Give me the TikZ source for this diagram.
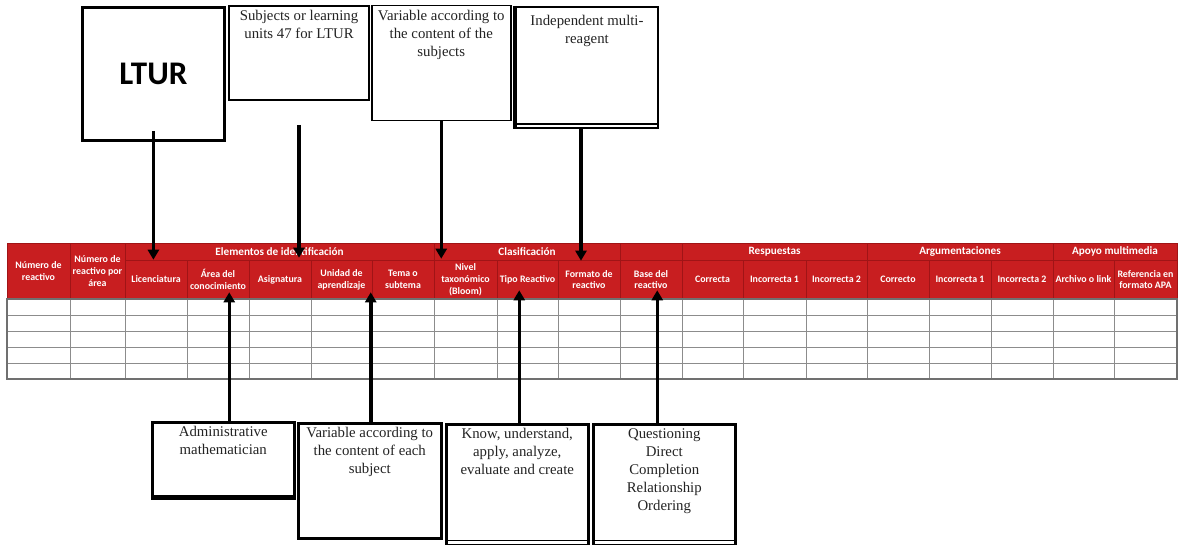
\documentclass[tikz,border=0pt]{standalone}
\usepackage{fontspec}
\setmainfont{Liberation Serif}
\newfontfamily\calfont{Carlito}
\usetikzlibrary{arrows.meta}
\definecolor{tred}{RGB}{200,30,32}
\definecolor{tline}{RGB}{160,20,22}
\definecolor{gridc}{RGB}{140,140,140}
\definecolor{boxtext}{RGB}{35,35,35}
\begin{document}
\begin{tikzpicture}[x=1pt,y=-1pt,
  hcell/.style={draw=tline, line width=0.6pt, fill=tred, text=white,
    font=\calfont\bfseries\fontsize{9.9}{11.8}\selectfont, align=center, inner sep=0pt},
  gcell/.style={hcell, font=\calfont\bfseries\fontsize{11.2}{12}\selectfont},
  tbox/.style={draw=black, line width=2.5pt, fill=white, inner sep=0pt, anchor=north west},
  btext/.style={font=\fontsize{14.8}{18}\selectfont, text=boxtext, align=center, inner sep=0pt, anchor=north},
  arr/.style={line width=3.5pt, -{Triangle[width=11pt,length=10pt]}},
  gridline/.style={draw=gridc, line width=0.9pt},
]
\useasboundingbox (0,0) rectangle (1180,545);

% ---------- table header ----------
\node[hcell, minimum width=63, minimum height=56] (h1) at (38.5,271) {Número de\\reactivo};
\node[hcell, minimum width=55, minimum height=56] (h2) at (97.5,271) {Número de\\reactivo por\\área};
\foreach \n/\a/\b/\t in {
  3/125/187/{Licenciatura},
  4/187/249/{Área del\\conocimiento},
  5/249/311/{Asignatura},
  6/311/372/{Unidad de\\aprendizaje},
  7/372/434/{Tema o\\subtema},
  8/434/497/{Nivel\\taxonómico\\(Bloom)},
  9/497/558/{Tipo Reactivo},
  10/558/620/{Formato de\\reactivo},
  11/620/682/{Base del\\reactivo},
  12/682/743/{Correcta},
  13/743/806/{Incorrecta 1},
  14/806/867/{Incorrecta 2},
  15/867/929/{Correcto},
  16/929/991/{Incorrecta 1},
  17/991/1053/{Incorrecta 2},
  18/1053/1114/{Archivo o link},
  19/1114/1177/{Referencia en\\formato APA}}
  \node[hcell, minimum width={\b-\a}, minimum height=39] (h\n) at ({(\a+\b)/2},279.5) {\t};
\foreach \n/\a/\b/\t in {
  1/125/434/{Elementos de identificación},
  2/434/620/{Clasificación},
  3/620/682/{},
  4/682/867/{Respuestas},
  5/867/1053/{Argumentaciones},
  6/1053/1177/{Apoyo multimedia}}
  \node[gcell, minimum width={\b-\a}, minimum height=17] (g\n) at ({(\a+\b)/2},251.5) {\t};

% ---------- data rows ----------
\foreach \y in {315,331,347,363}
  \draw[gridline] (7,\y) -- (1177,\y);
\foreach \x in {70,125,187,249,311,372,434,497,558,620,682,743,806,867,929,991,1053,1114}
  \draw[gridline] (\x,299) -- (\x,379);
\draw[gridline, draw=gridc!80!black, line width=1.1pt] (7,299) rectangle (1177,379);

% ---------- top boxes ----------
\node[tbox, line width=2.8pt, minimum width=142, minimum height=133,
  font=\calfont\bfseries\fontsize{33}{33}\selectfont] (ltur) at (81,6) {\raisebox{-3pt}{LTUR}};
\node[tbox, line width=2pt, minimum width=140, minimum height=94] (s2) at (228,5) {};
\node[btext] (s2t) at ([yshift=-5pt]s2.north) {Subjects or learning\\units 47 for LTUR};
\node[tbox, line width=1.5pt, minimum width=139, minimum height=115] (s3) at (371,5) {};
\node[btext] (s3t) at ([yshift=-5pt]s3.north) {Variable according to\\the content of the\\subjects};
\node[tbox, line width=2pt, minimum width=142, minimum height=121] (s4) at (515,6) {};
\draw[line width=4pt] (s4.north west) -- (s4.south west);
\draw[line width=1.2pt] ([yshift=5pt]s4.south west) -- ([yshift=5pt]s4.south east);
\node[btext] (s4t) at ([yshift=-9pt]s4.north) {Independent multi-\\reagent};

% ---------- bottom boxes ----------
\node[tbox, minimum width=142, minimum height=75] (bA) at (151,421) {};
\draw[line width=4.5pt] ([yshift=1pt]bA.south west) -- ([yshift=1pt]bA.south east);
\node[btext] (bAt) at ([yshift=-5pt]bA.north) {Administrative\\mathematician};
\node[tbox, minimum width=143, minimum height=115] (bB) at (297,422) {};
\node[btext] (bBt) at ([yshift=-5pt]bB.north) {Variable according to\\the content of each\\subject};
\node[tbox, minimum width=142, minimum height=121] (bC) at (445,423) {};
\draw[line width=1.2pt] ([yshift=6pt]bC.south west) -- ([yshift=6pt]bC.south east);
\node[btext] (bCt) at ([yshift=-5pt]bC.north) {Know, understand,\\apply, analyze,\\evaluate and create};
\node[tbox, minimum width=142, minimum height=121] (bD) at (592,423) {};
\draw[line width=1.2pt] ([yshift=6pt]bD.south west) -- ([yshift=6pt]bD.south east);
\node[btext] (bDt) at ([yshift=-5pt]bD.north) {Questioning\\Direct\\Completion\\Relationship\\Ordering};

% ---------- connectors ----------
\draw[arr] ([yshift=11pt]ltur.south) -- (ltur.south |- h3.north);
\draw[arr] ([yshift=-24pt]s2.south) -- ([yshift=2pt]s2.south |- h5.north);
\draw[arr] (s3.south) -- ([yshift=1pt]s3.south |- h8.north);
\draw[arr] ([xshift=-6pt]s4.south) -- ([xshift=-6pt,yshift=-1pt]s4.south |- h10.north);

\draw[arr] ([xshift=6pt]bA.north) -- ([xshift=6pt,yshift=7pt]bA.north |- h4.south);
\draw[arr] ([xshift=1pt]bB.north) -- ([xshift=1pt,yshift=7pt]bB.north |- h6.south);
\draw[arr] ([xshift=2pt]bC.north) -- ([xshift=2pt,yshift=9pt]bC.north |- h9.south);
\draw[arr] ([xshift=-7pt]bD.north) -- ([xshift=-7pt,yshift=9pt]bD.north |- h11.south);
\end{tikzpicture}
\end{document}
